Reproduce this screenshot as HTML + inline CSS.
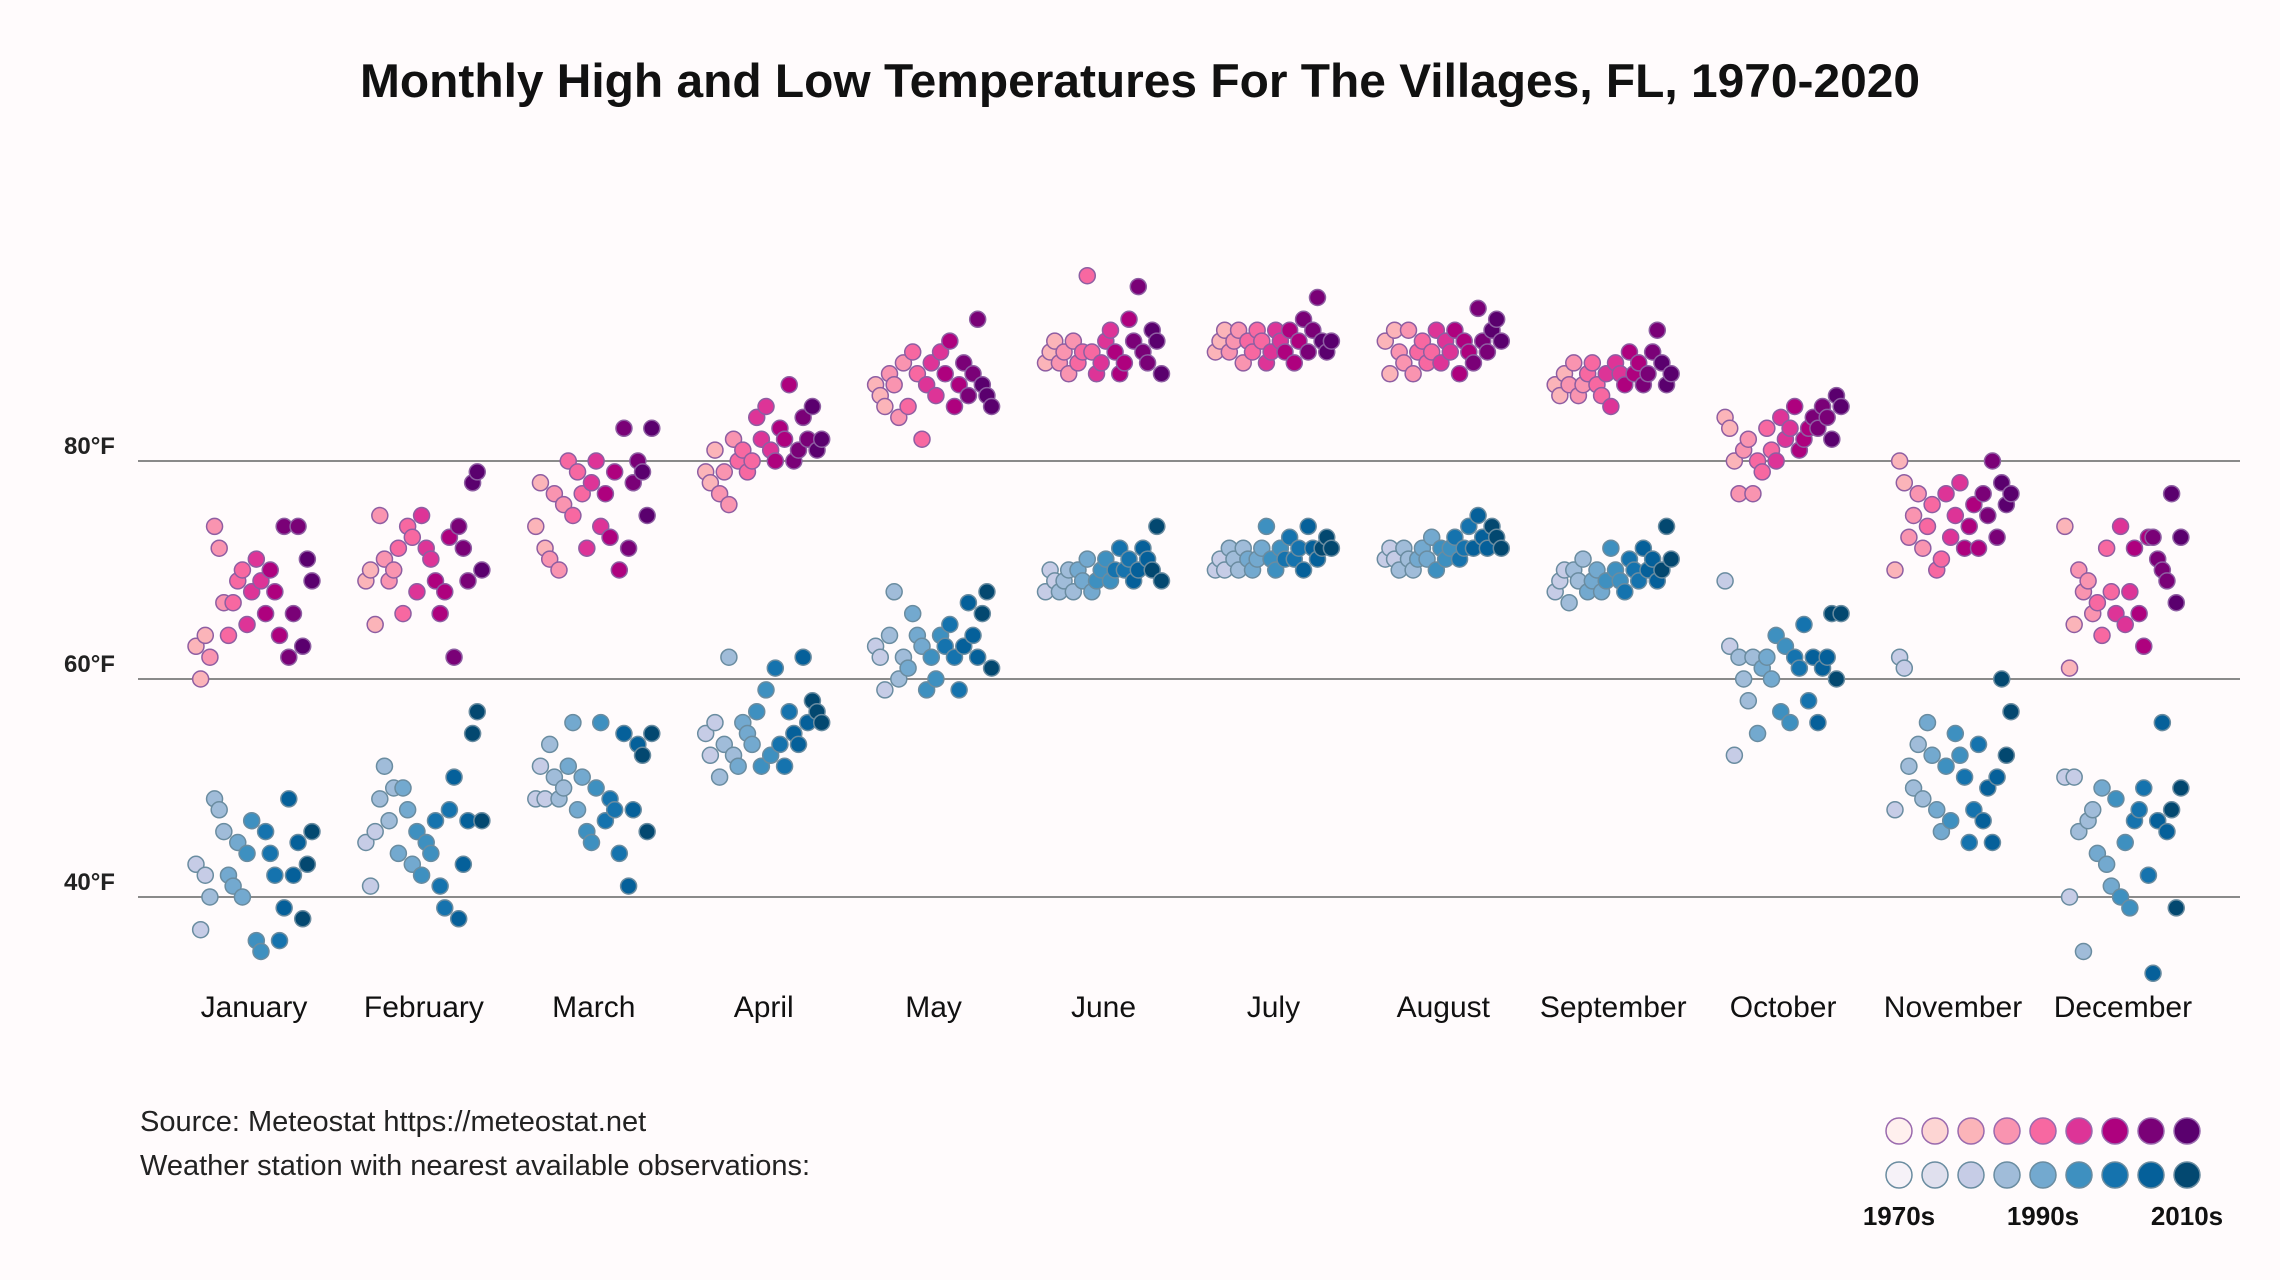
<!DOCTYPE html>
<html><head><meta charset="utf-8">
<style>
html,body{margin:0;padding:0;background:#fffbfc;}
svg{display:block;font-family:"Liberation Sans",sans-serif;}
</style></head>
<body>
<svg id="chart" width="2280" height="1280" viewBox="0 0 2280 1280" xmlns="http://www.w3.org/2000/svg">
<rect x="0" y="0" width="2280" height="1280" fill="#fffbfc"/>
<text x="1140" y="97" text-anchor="middle" font-size="47" font-weight="bold" fill="#111" textLength="1560" lengthAdjust="spacingAndGlyphs">Monthly High and Low Temperatures For The Villages, FL, 1970-2020</text>
<g id="grid"></g>
<g id="points"></g>
<g id="months"></g>
<text x="140" y="1131" font-size="29" fill="#222">Source: Meteostat https://meteostat.net</text>
<text x="140" y="1175" font-size="29" fill="#222">Weather station with nearest available observations:</text>
<g id="legend"></g>
</svg>
<script>
const months=["January","February","March","April","May","June","July","August","September","October","November","December"];
const yTicks=[40,60,80];
const highs=[
[63,60,64,62,74,72,67,64,67,69,70,65,68,71,69,66,70,68,64,74,62,66,74,63,71,69],
[69,70,65,75,71,69,70,72,66,74,73,68,75,72,71,69,66,68,73,62,74,72,69,78,79,70],
[74,78,72,71,77,70,76,80,75,79,77,72,78,80,74,77,73,79,70,83,72,78,80,79,75,83],
[79,78,81,77,79,76,82,80,81,79,80,84,82,85,81,80,83,82,87,80,81,84,82,85,81,82],
[87,86,85,88,87,84,89,85,90,88,82,87,89,86,90,88,91,85,87,89,86,88,93,87,86,85],
[89,90,91,89,90,88,91,89,90,97,90,88,89,91,92,90,88,89,93,91,96,90,89,92,91,88],
[90,91,92,90,91,92,89,91,90,92,91,89,90,92,91,90,92,89,91,93,90,92,95,91,90,91],
[91,88,92,90,89,92,88,90,91,89,90,92,89,91,90,92,88,91,90,89,94,91,90,92,93,91],
[87,86,88,87,89,86,87,88,89,87,86,88,85,89,88,87,90,88,89,87,88,90,92,89,87,88],
[84,83,80,77,81,82,77,80,79,83,81,80,84,82,83,85,81,82,83,84,83,85,84,82,86,85],
[70,80,78,73,75,77,72,74,76,70,71,77,73,75,78,72,74,76,72,77,75,80,73,78,76,77],
[74,61,65,70,68,69,66,67,64,72,68,66,74,65,68,72,66,63,73,73,71,70,69,77,67,73]];
const lows=[
[43,37,42,40,49,48,46,42,41,45,40,44,47,36,35,46,44,42,36,39,49,42,45,38,43,46],
[45,41,46,49,52,47,50,44,50,48,43,46,42,45,44,47,41,39,48,51,38,43,47,55,57,47],
[49,52,49,54,51,49,50,52,56,48,51,46,45,50,56,47,49,48,44,55,41,48,54,53,46,55],
[55,53,56,51,54,62,53,52,56,55,54,57,52,59,53,61,54,52,57,55,54,62,56,58,57,56],
[63,62,59,64,68,60,62,61,66,64,63,59,62,60,64,63,65,62,59,63,67,64,62,66,68,61],
[68,70,69,68,69,70,68,70,69,71,68,69,70,71,69,70,72,70,71,69,70,72,71,70,74,69],
[70,71,70,72,71,70,72,71,70,71,72,74,71,70,72,71,73,71,72,70,74,72,71,72,73,72],
[71,72,71,70,72,71,70,71,72,71,73,70,72,71,72,73,71,72,74,72,75,73,72,74,73,72],
[68,69,70,67,70,69,71,68,69,70,68,69,72,70,69,68,71,70,69,72,70,71,69,70,74,71],
[69,63,53,62,60,58,62,55,61,62,60,64,57,63,56,62,61,65,58,62,56,61,62,66,60,66],
[48,62,61,52,50,54,49,56,53,48,46,52,47,55,53,51,45,48,54,47,50,45,51,60,53,57],
[51,40,51,46,35,47,48,44,50,43,41,49,40,45,39,47,48,50,42,33,47,56,46,48,39,50]];
const legendLabels=["1970s","1990s","2010s"];
const highColors=["#fff0ee","#fdd5d3","#fbb4b9","#f994b0","#f768a1","#dd3497","#ae017e","#7a0177","#5a006e"];
const lowColors=["#f6f2f8","#e0e0ee","#c6cce6","#a0bcd9","#73a9cf","#3e90c0","#1573ae","#05609a","#034870"];
const NS="http://www.w3.org/2000/svg";
function yScale(t){return 461+(80-t)*10.9;}
function xScale(m,i,n){return 254+m*169.9+(i/(n-1)-0.5)*116;}
function mk(tag,attrs,parent){const e=document.createElementNS(NS,tag);for(const k in attrs)e.setAttribute(k,attrs[k]);parent.appendChild(e);return e;}
const grid=document.getElementById('grid');
yTicks.forEach(t=>{
  const l=mk('line',{x1:138,x2:2240,y1:yScale(t),y2:yScale(t),stroke:'#8a8a8a','stroke-width':2},grid);
  
  
  const tx=mk('text',{x:64,y:yScale(t)-7,'font-size':24,'font-weight':'bold',fill:'#222'},grid);
  tx.textContent=t+'°F';
  
  
});
const pts=document.getElementById('points');
function drawSeries(data,colors,stroke,name){
  data.forEach((vals,m)=>{
    vals.forEach((v,i)=>{
      const ci=2+Math.round(i/(vals.length-1)*6);
      const c=mk('circle',{cx:xScale(m,i,vals.length),cy:yScale(v),r:8,fill:colors[ci],stroke:stroke,'stroke-width':1.5},pts);
      
      
    });
  });
}
drawSeries(lows,lowColors,'#6a8ca0','low-point');
drawSeries(highs,highColors,'#8e5ea2','high-point');
const mg=document.getElementById('months');
months.forEach((mn,m)=>{
  const t=mk('text',{x:254+m*169.9,y:1017,'text-anchor':'middle','font-size':30,fill:'#111'},mg);
  t.textContent=mn;
  
  
});
const lg=document.getElementById('legend');
for(let i=0;i<9;i++){
  const a=mk('circle',{cx:1899+i*36,cy:1131,r:13,fill:highColors[i],stroke:'#9a6aae','stroke-width':1.5},lg);
  
  
  const b=mk('circle',{cx:1899+i*36,cy:1175,r:13,fill:lowColors[i],stroke:'#6a8ca0','stroke-width':1.5},lg);
  
  
}
legendLabels.forEach((s,k)=>{
  const t=mk('text',{x:1899+k*4*36,y:1225,'text-anchor':'middle','font-size':26,'font-weight':'bold',fill:'#111'},lg);
  t.textContent=s;
  
  
});
</script>
</body></html>
